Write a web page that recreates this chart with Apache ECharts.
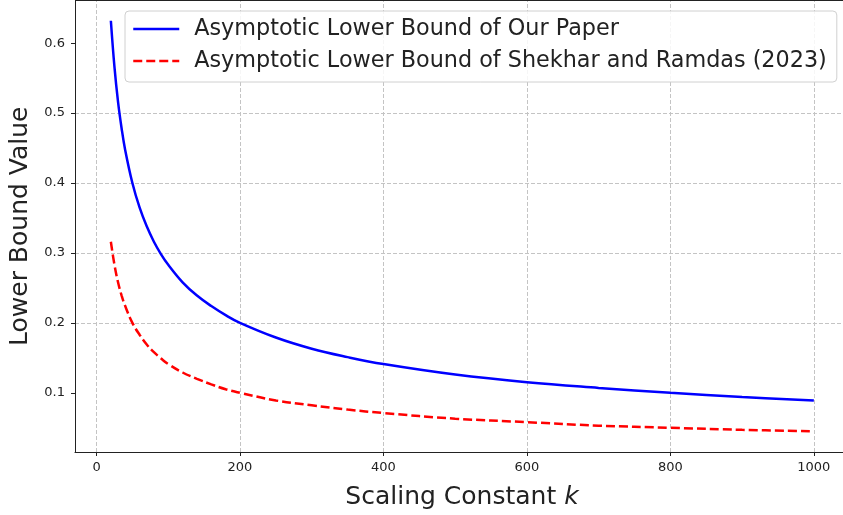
<!DOCTYPE html>
<html>
<head>
<meta charset="utf-8">
<script src="https://cdn.jsdelivr.net/npm/echarts@6/dist/echarts.min.js"></script>
<style>
html,body{margin:0;padding:0;background:#fff;overflow:hidden;width:843px;height:515px;}
#chart{width:849px;height:515px;}
</style>
</head>
<body>
<div id="chart"></div>
<script>
// Values
const kValues = [20, 25, 30, 35, 40, 50, 60, 70, 80, 90, 100, 120, 140, 160, 180, 200, 250, 300, 350, 400, 500, 600, 700, 800, 900, 1000];
const ourPaper = [0.632, 0.566, 0.516, 0.478, 0.447, 0.400, 0.365, 0.338, 0.316, 0.298, 0.283, 0.258, 0.239, 0.224, 0.211, 0.200, 0.179, 0.163, 0.151, 0.141, 0.126, 0.115, 0.107, 0.100, 0.094, 0.089];
const shekharRamdas = [0.316, 0.283, 0.258, 0.239, 0.224, 0.200, 0.183, 0.169, 0.158, 0.149, 0.141, 0.129, 0.120, 0.112, 0.105, 0.100, 0.089, 0.082, 0.076, 0.071, 0.063, 0.058, 0.053, 0.050, 0.047, 0.045];
const xTicks = [0, 200, 400, 600, 800, 1000];
const yTicks = [0.1, 0.2, 0.3, 0.4, 0.5, 0.6];
const seriesNames = ['Asymptotic Lower Bound of Our Paper', 'Asymptotic Lower Bound of Shekhar and Ramdas (2023)'];

const FONT = 'DejaVu Sans';
const chart = echarts.init(document.getElementById('chart'), null, {renderer: 'canvas'});
const gridStyle = {color: '#c4c4c4', width: 1, type: [4, 2]};
const X_MIN = -30, X_MAX = 1049;

chart.setOption({
  backgroundColor: '#ffffff',
  animation: false,
  textStyle: {fontFamily: FONT},
  grid: {left: 73, top: 0.5, right: 0, bottom: 63, show: false},
  legend: {
    orient: 'vertical', left: 125, top: 11,
    padding: [7, 10, 10, 7],
    itemGap: 10, itemWidth: 46, itemHeight: 14,
    backgroundColor: 'rgba(255,255,255,0.85)',
    borderColor: '#d0d0d0', borderWidth: 1, borderRadius: 4,
    itemStyle: {opacity: 0},
    lineStyle: {width: 2.5},
    textStyle: {fontFamily: FONT, fontSize: 22.3, color: '#222', lineHeight: 22, padding: [0, 0, 0, 10]},
    data: seriesNames
  },
  xAxis: {
    type: 'value', min: X_MIN, max: X_MAX,
    name: 'Scaling Constant {i|k}', nameLocation: 'middle', nameGap: 33,
    nameTextStyle: {fontFamily: FONT, fontSize: 25, color: '#222', rich: {i: {fontFamily: FONT, fontSize: 25, fontStyle: 'italic', color: '#222'}}},
    axisLine: {show: true, onZero: false, lineStyle: {color: '#222', width: 1}},
    axisTick: {show: true, inside: false, length: 4, customValues: xTicks, lineStyle: {color: '#222'}},
    axisLabel: {customValues: xTicks, margin: 9, fontFamily: FONT, fontSize: 13, color: '#222', formatter: v => String(v)},
    splitLine: {show: false}
  },
  yAxis: {
    type: 'value', min: 0.0153, max: 0.661,
    name: 'Lower Bound Value', nameLocation: 'middle', nameGap: 42, nameRotate: 90,
    nameTextStyle: {fontFamily: FONT, fontSize: 25, color: '#222'},
    axisLine: {show: true, onZero: false, lineStyle: {color: '#222', width: 1}},
    axisTick: {show: true, inside: false, length: 4, customValues: yTicks, lineStyle: {color: '#222'}},
    axisLabel: {customValues: yTicks, margin: 10, fontFamily: FONT, fontSize: 13, color: '#222', formatter: v => v.toFixed(1)},
    splitLine: {show: true, showMinLine: false, showMaxLine: false, lineStyle: gridStyle}
  },
  series: [
    {
      name: seriesNames[0], type: 'line', symbol: 'none', smooth: 0.4, z: 3,
      data: kValues.map((k, i) => [k, ourPaper[i]]),
      lineStyle: {color: '#0000ff', width: 2.5, type: 'solid'},
      itemStyle: {color: '#0000ff'},
      markLine: {
        silent: true, symbol: 'none', z: 1,
        label: {show: false},
        lineStyle: gridStyle,
        emphasis: {disabled: true},
        data: xTicks.map(v => ({xAxis: v}))
      }
    },
    {
      name: seriesNames[1], type: 'line', symbol: 'none', smooth: 0.4, z: 3,
      data: kValues.map((k, i) => [k, shekharRamdas[i]]),
      lineStyle: {color: '#ff0000', width: 2.5, type: [9, 4]},
      itemStyle: {color: '#ff0000'},
      markLine: {
        silent: true, symbol: 'none', z: 1,
        label: {show: false},
        lineStyle: {color: '#222', width: 1, type: 'solid'},
        emphasis: {disabled: true},
        data: [[{coord: [X_MIN, 0.661]}, {coord: [X_MAX, 0.661]}]]
      }
    }
  ]
});
</script>
</body>
</html>
